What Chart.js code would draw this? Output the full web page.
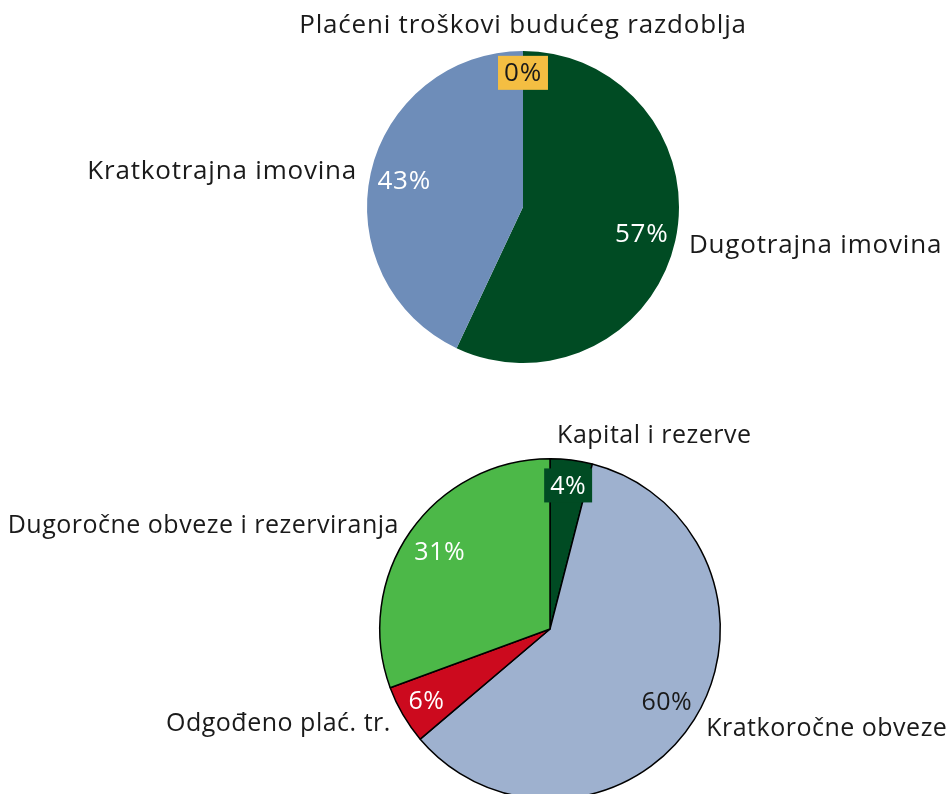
<!DOCTYPE html>
<html>
<head>
<meta charset="utf-8">
<script src="https://cdn.jsdelivr.net/npm/chart.js@4/dist/chart.umd.min.js"></script>
<style>
    html, body { margin: 0; padding: 0; background: #fff; overflow: hidden; }
    body { width: 949px; height: 794px; position: relative; }
    .box { position: absolute; left: 0; width: 949px; }
    #top-box { top: 0; height: 400px; }
    #bottom-box { top: 400px; height: 420px; }
</style>
</head>
<body>
<div class="box" id="top-box"><canvas id="chart-assets"></canvas></div>
<div class="box" id="bottom-box"><canvas id="chart-liabilities"></canvas></div>
<script>
// Aktiva
const assetLabels = ['Dugotrajna imovina', 'Kratkotrajna imovina', 'Plaćeni troškovi budućeg razdoblja'];
const assetValues = [57, 43, 0];

// Pasiva
const liabilityLabels = ['Kapital i rezerve', 'Kratkoročne obveze', 'Odgođeno plać. tr.', 'Dugoročne obveze i rezerviranja'];
const liabilityValues = [4.0, 59.8, 5.6, 30.6];

// percent labels inside + category labels outside the pie
const sliceLabels = {
    id: 'sliceLabels',
    afterDatasetsDraw(chart, args, opts) {
        const ctx = chart.ctx;
        const meta = chart.getDatasetMeta(0);
        const data = chart.data.datasets[0].data;
        const total = data.reduce((a, b) => a + b, 0);
        ctx.save();
        ctx.font = opts.font;
        ctx.letterSpacing = opts.spacing;
        meta.data.forEach((arc, i) => {
            const p = arc.getProps(['x', 'y', 'startAngle', 'endAngle', 'outerRadius'], true);
            const mid = (p.startAngle + p.endAngle) / 2;
            const cos = Math.cos(mid), sin = Math.sin(mid);

            const r1 = p.outerRadius * opts.inner[i];
            const px = p.x + cos * r1, py = p.y + sin * r1;
            const txt = Math.round(data[i] * 100 / total) + '%';
            ctx.textAlign = 'center';
            ctx.textBaseline = 'middle';
            if (opts.boxes[i]) {
                const w = ctx.measureText(txt).width + 12;
                ctx.fillStyle = opts.boxes[i];
                ctx.fillRect(px - w / 2, py - 17, w, 34);
            }
            ctx.fillStyle = opts.valueColors[i];
            ctx.fillText(txt, px, py + 1);

            const r2 = p.outerRadius + opts.gap;
            const qx = p.x + cos * r2, qy = p.y + sin * r2;
            ctx.textAlign = cos > 0.05 ? 'left' : (cos < -0.05 ? 'right' : 'center');
            ctx.textBaseline = sin < -0.9 ? 'bottom' : (sin > 0.9 ? 'top' : 'middle');
            ctx.fillStyle = '#1a1a1a';
            ctx.fillText(chart.data.labels[i], qx - (sin < -0.9 && cos > 0.05 ? 16 : 0), qy + 2);
        });
        ctx.restore();
    }
};

function makePie(id, labels, values, colors, border, padding, labelOpts) {
    return new Chart(document.getElementById(id).getContext('2d'), {
        type: 'pie',
        data: {
            labels: labels,
            datasets: [{
                data: values,
                backgroundColor: colors,
                borderColor: border ? '#000' : colors,
                borderWidth: border ? 1.5 : 0
            }]
        },
        options: {
            responsive: true,
            maintainAspectRatio: false,
            animation: false,
            layout: { padding: padding },
            plugins: {
                legend: { display: false },
                tooltip: { enabled: false },
                sliceLabels: labelOpts
            }
        },
        plugins: [sliceLabels]
    });
};

const assetsChart = makePie(
    'chart-assets', assetLabels, assetValues,
    ['#004B23', '#6E8DB9', '#F4BE42'], false,
    { left: 367, right: 270, top: 51, bottom: 37 },
    { inner: [0.78, 0.78, 0.86], gap: 14,
      font: '26px "Open Sans", Lato, sans-serif', spacing: '0.8px',
      valueColors: ['#fff', '#fff', '#1a1a1a'], boxes: [null, null, '#F4BE42'] }
);

const liabilitiesChart = makePie(
    'chart-liabilities', liabilityLabels, liabilityValues,
    ['#004B23', '#9EB1CF', '#CC0A1E', '#4CB848'], true,
    { left: 379, right: 228, top: 58, bottom: 20 },
    { inner: [0.85, 0.81, 0.84, 0.79], gap: 14,
      font: '25px "Open Sans", Lato, sans-serif', spacing: '0.5px',
      valueColors: ['#fff', '#1a1a1a', '#fff', '#fff'], boxes: ['#004B23', null, null, null] }
);
</script>
</body>
</html>
